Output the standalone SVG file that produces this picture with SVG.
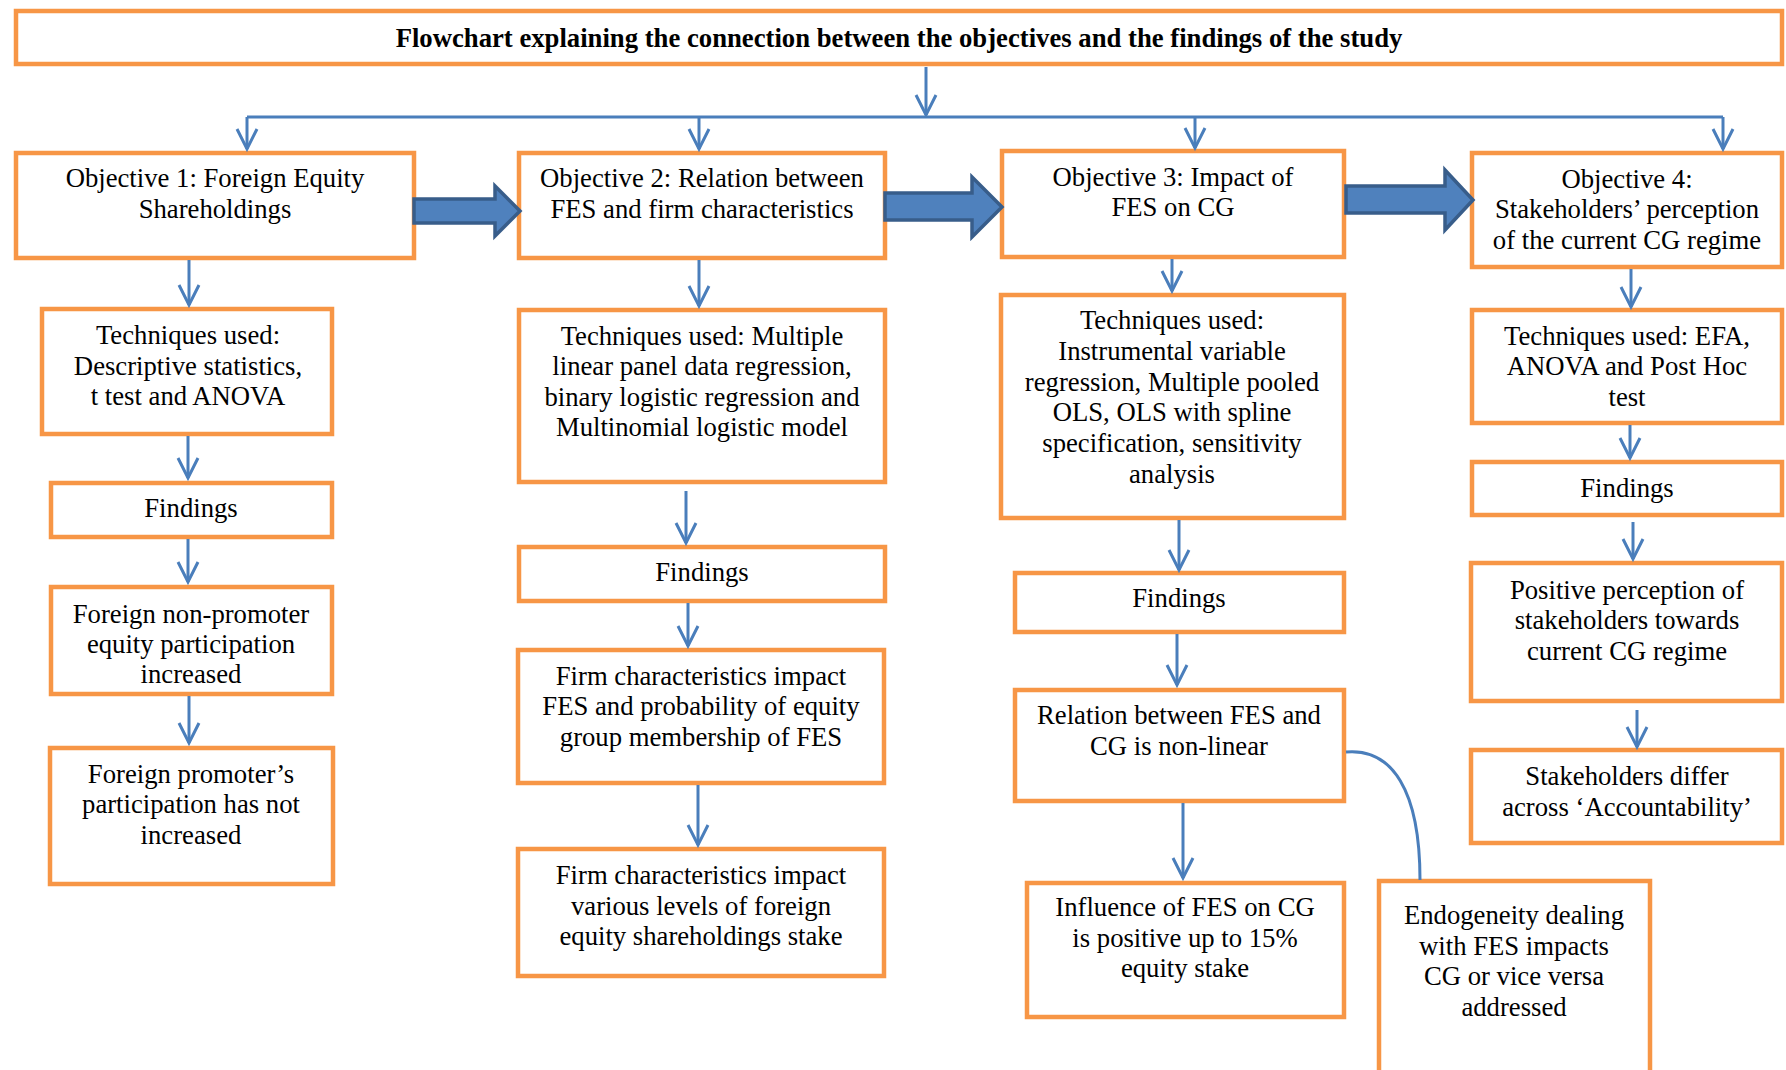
<svg xmlns="http://www.w3.org/2000/svg" width="1786" height="1070" viewBox="0 0 1786 1070">
<style>
.box{fill:#fff;stroke:#F79646;stroke-width:4.5}
.t{font-family:"Liberation Serif","Times New Roman",serif;font-size:26.7px;fill:#000;text-anchor:middle}
.title{font-weight:bold}
.ln{fill:none;stroke:#4A7EBB;stroke-width:3}
.blk{fill:#4F81BD;stroke:#385D8A;stroke-width:3.5;stroke-linejoin:miter}
</style>
<defs>
<marker id="v" markerUnits="userSpaceOnUse" markerWidth="30" markerHeight="30" viewBox="-25 -15 30 30" refX="0" refY="0" orient="auto" overflow="visible">
<path d="M-20,-10 L0,0 L-20,10" fill="none" stroke="#4A7EBB" stroke-width="3"/>
</marker>
</defs>
<rect width="1786" height="1070" fill="#fff"/>
<g id="title"><rect class="box" x="16" y="11" width="1766" height="53"/><text class="t title" x="899" y="47">Flowchart explaining the connection between the objectives and the findings of the study</text></g>
<g id="obj1"><rect class="box" x="16" y="153" width="398" height="105"/><text class="t" x="215" y="187"><tspan x="215">Objective 1: Foreign Equity</tspan><tspan x="215" y="218">Shareholdings</tspan></text></g>
<g id="obj2"><rect class="box" x="519" y="153" width="366" height="105"/><text class="t" x="702" y="187"><tspan x="702">Objective 2: Relation between</tspan><tspan x="702" y="218">FES and firm characteristics</tspan></text></g>
<g id="obj3"><rect class="box" x="1002" y="151" width="342" height="106"/><text class="t" x="1173" y="186"><tspan x="1173">Objective 3: Impact of</tspan><tspan x="1173" y="216">FES on CG</tspan></text></g>
<g id="obj4"><rect class="box" x="1472" y="153" width="310" height="114"/><text class="t" x="1627" y="188"><tspan x="1627">Objective 4:</tspan><tspan x="1627" y="218">Stakeholders’ perception</tspan><tspan x="1627" y="249">of the current CG regime</tspan></text></g>
<g id="tech1"><rect class="box" x="42" y="309" width="290" height="125"/><text class="t" x="188" y="344"><tspan x="188">Techniques used:</tspan><tspan x="188" y="375">Descriptive statistics,</tspan><tspan x="188" y="405">t test and ANOVA</tspan></text></g>
<g id="find1"><rect class="box" x="51" y="483" width="281" height="54"/><text class="t" x="191" y="517">Findings</text></g>
<g id="res1a"><rect class="box" x="51" y="587" width="281" height="107"/><text class="t" x="191" y="623"><tspan x="191">Foreign non-promoter</tspan><tspan x="191" y="653">equity participation</tspan><tspan x="191" y="683">increased</tspan></text></g>
<g id="res1b"><rect class="box" x="50" y="748" width="283" height="136"/><text class="t" x="191" y="783"><tspan x="191">Foreign promoter’s</tspan><tspan x="191" y="813">participation has not</tspan><tspan x="191" y="844">increased</tspan></text></g>
<g id="tech2"><rect class="box" x="519" y="310" width="366" height="172"/><text class="t" x="702" y="345"><tspan x="702">Techniques used: Multiple</tspan><tspan x="702" y="375">linear panel data regression,</tspan><tspan x="702" y="406">binary logistic regression and</tspan><tspan x="702" y="436">Multinomial logistic model</tspan></text></g>
<g id="find2"><rect class="box" x="519" y="547" width="366" height="54"/><text class="t" x="702" y="581">Findings</text></g>
<g id="res2a"><rect class="box" x="518" y="650" width="366" height="133"/><text class="t" x="701" y="685"><tspan x="701">Firm characteristics impact</tspan><tspan x="701" y="715">FES and probability of equity</tspan><tspan x="701" y="746">group membership of FES</tspan></text></g>
<g id="res2b"><rect class="box" x="518" y="849" width="366" height="127"/><text class="t" x="701" y="884"><tspan x="701">Firm characteristics impact</tspan><tspan x="701" y="915">various levels of foreign</tspan><tspan x="701" y="945">equity shareholdings stake</tspan></text></g>
<g id="tech3"><rect class="box" x="1001" y="295" width="343" height="223"/><text class="t" x="1172" y="329"><tspan x="1172">Techniques used:</tspan><tspan x="1172" y="360">Instrumental variable</tspan><tspan x="1172" y="391">regression, Multiple pooled</tspan><tspan x="1172" y="421">OLS, OLS with spline</tspan><tspan x="1172" y="452">specification, sensitivity</tspan><tspan x="1172" y="483">analysis</tspan></text></g>
<g id="find3"><rect class="box" x="1015" y="573" width="329" height="59"/><text class="t" x="1179" y="607">Findings</text></g>
<g id="res3a"><rect class="box" x="1015" y="690" width="329" height="111"/><text class="t" x="1179" y="724"><tspan x="1179">Relation between FES and</tspan><tspan x="1179" y="755">CG is non-linear</tspan></text></g>
<g id="res3b"><rect class="box" x="1027" y="883" width="317" height="134"/><text class="t" x="1185" y="916"><tspan x="1185">Influence of FES on CG</tspan><tspan x="1185" y="947">is positive up to 15%</tspan><tspan x="1185" y="977">equity stake</tspan></text></g>
<g id="endo"><rect class="box" x="1379" y="881" width="271" height="200"/><text class="t" x="1514" y="924"><tspan x="1514">Endogeneity dealing</tspan><tspan x="1514" y="955">with FES impacts</tspan><tspan x="1514" y="985">CG or vice versa</tspan><tspan x="1514" y="1016">addressed</tspan></text></g>
<g id="tech4"><rect class="box" x="1472" y="310" width="310" height="113"/><text class="t" x="1627" y="345"><tspan x="1627">Techniques used: EFA,</tspan><tspan x="1627" y="375">ANOVA and Post Hoc</tspan><tspan x="1627" y="406">test</tspan></text></g>
<g id="find4"><rect class="box" x="1472" y="462" width="310" height="53"/><text class="t" x="1627" y="497">Findings</text></g>
<g id="res4a"><rect class="box" x="1471" y="563" width="311" height="138"/><text class="t" x="1627" y="599"><tspan x="1627">Positive perception of</tspan><tspan x="1627" y="629">stakeholders towards</tspan><tspan x="1627" y="660">current CG regime</tspan></text></g>
<g id="res4b"><rect class="box" x="1471" y="750" width="311" height="93"/><text class="t" x="1627" y="785"><tspan x="1627">Stakeholders differ</tspan><tspan x="1627" y="816">across ‘Accountability’</tspan></text></g>
<g id="connectors">
<path class="ln" d="M926,67 V115" marker-end="url(#v)"/>
<path class="ln" d="M247,117 H1723"/>
<path class="ln" d="M247,117 V149" marker-end="url(#v)"/>
<path class="ln" d="M699,117 V149" marker-end="url(#v)"/>
<path class="ln" d="M1195,117 V148" marker-end="url(#v)"/>
<path class="ln" d="M1723,117 V149" marker-end="url(#v)"/>
<path class="ln" d="M189,260 V305" marker-end="url(#v)"/>
<path class="ln" d="M188,436 V478" marker-end="url(#v)"/>
<path class="ln" d="M188,539 V582" marker-end="url(#v)"/>
<path class="ln" d="M189,696 V743" marker-end="url(#v)"/>
<path class="ln" d="M699,260 V306" marker-end="url(#v)"/>
<path class="ln" d="M686,491 V543" marker-end="url(#v)"/>
<path class="ln" d="M688,603 V646" marker-end="url(#v)"/>
<path class="ln" d="M698,785 V845" marker-end="url(#v)"/>
<path class="ln" d="M1172,259 V291" marker-end="url(#v)"/>
<path class="ln" d="M1179,520 V570" marker-end="url(#v)"/>
<path class="ln" d="M1177,634 V685" marker-end="url(#v)"/>
<path class="ln" d="M1183,803 V878" marker-end="url(#v)"/>
<path class="ln" d="M1631,269 V307" marker-end="url(#v)"/>
<path class="ln" d="M1630,425 V458" marker-end="url(#v)"/>
<path class="ln" d="M1633,522 V559" marker-end="url(#v)"/>
<path class="ln" d="M1637,710 V747" marker-end="url(#v)"/>
<path class="ln" d="M1346,752 C1392,748 1420,790 1420,880"/>
<polygon class="blk" points="414,199 495,199 495,186 520,211 495,236 495,223 414,223"/>
<polygon class="blk" points="885,193 972,193 972,177 1002,207 972,237 972,220 885,220"/>
<polygon class="blk" points="1346,186 1445,186 1445,170 1473,200 1445,230 1445,213 1346,213"/>
</g>
</svg>
